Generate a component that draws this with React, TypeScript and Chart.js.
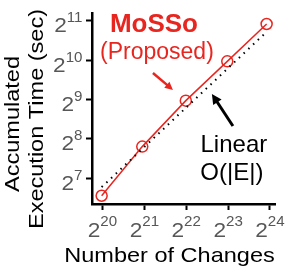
import React, { useEffect, useRef } from "react";
import { Chart, registerables } from "chart.js";

Chart.register(...registerables);

// Number of changes (x) and accumulated execution time in seconds (y) for MoSSo
const changes = [1034200, 2025700, 4165400, 8273300, 15872000];
const seconds = [93.7, 222.9, 501.5, 1002.9, 1937.5];

// Linear O(|E|) reference line
const linearChanges = [1034200, 15438000];
const linearSeconds = [109.1, 1640.5];

// Tick exponents (labels read 2^n)
const xTickExps = [20, 21, 22, 23, 24];
const yTickExps = [7, 8, 9, 10, 11];

const FONT = '"Liberation Sans", Arial, Helvetica, sans-serif';
const RED = "rgb(232, 38, 32)";

type Pt = [number, number]; // exponents of 2 in data space

const redArrow: [Pt, Pt] = [[21.205, 9.675], [21.683, 9.242]];
const blackArrow: [Pt, Pt] = [[23.115, 8.325], [22.613, 9.14]];

function drawArrow(ctx: CanvasRenderingContext2D, x1: number, y1: number, x2: number, y2: number, color: string, lw: number, head: number) {
  const ang = Math.atan2(y2 - y1, x2 - x1);
  const bx = x2 - head * Math.cos(ang);
  const by = y2 - head * Math.sin(ang);
  ctx.strokeStyle = color;
  ctx.fillStyle = color;
  ctx.lineWidth = lw;
  ctx.lineCap = "butt";
  ctx.beginPath();
  ctx.moveTo(x1, y1);
  ctx.lineTo(bx + Math.cos(ang), by + Math.sin(ang));
  ctx.stroke();
  const w = head * 0.5;
  ctx.beginPath();
  ctx.moveTo(x2, y2);
  ctx.lineTo(bx + w * Math.sin(ang), by - w * Math.cos(ang));
  ctx.lineTo(bx - w * Math.sin(ang), by + w * Math.cos(ang));
  ctx.closePath();
  ctx.fill();
}

// Draw text centered at (x, y baseline), optionally rotated, stretched along the text direction
function stretchedText(ctx: CanvasRenderingContext2D, text: string, x: number, y: number, sx: number, rot = 0) {
  ctx.save();
  ctx.translate(x, y);
  if (rot) ctx.rotate(rot);
  ctx.scale(sx, 1);
  ctx.textAlign = "center";
  ctx.fillText(text, 0, 0);
  ctx.restore();
}

const BASE_PX = 21;
const SUP_PX = 14;
const TICK_SX = 1.08;
const TITLE_SX = 1.12;

const labelsPlugin = {
  id: "customLabels",
  afterDraw(chart: any) {
    const ctx: CanvasRenderingContext2D = chart.ctx;
    const xs = chart.scales.x;
    const ys = chart.scales.y;
    const area = chart.chartArea;
    const px = (e: number) => xs.getPixelForValue(Math.pow(2, e));
    const py = (e: number) => ys.getPixelForValue(Math.pow(2, e));
    ctx.save();
    ctx.textBaseline = "alphabetic";
    ctx.fillStyle = "#575757";

    const tickLabel = (e: number, cx: number, baseY: number, supY: number) => {
      ctx.font = `${BASE_PX}px ${FONT}`;
      const bw = ctx.measureText("2").width * TICK_SX;
      ctx.font = `${SUP_PX}px ${FONT}`;
      const supW = ctx.measureText(String(e)).width * TICK_SX;
      const total = bw + supW;
      const left = cx - total / 2;
      ctx.font = `${BASE_PX}px ${FONT}`;
      stretchedText(ctx, "2", left + bw / 2, baseY, TICK_SX);
      ctx.font = `${SUP_PX}px ${FONT}`;
      stretchedText(ctx, String(e), left + bw + supW / 2, supY, TICK_SX);
      return total;
    };

    // y tick labels (right-aligned)
    for (const e of yTickExps) {
      const y = py(e);
      const right = area.left - 9.5;
      ctx.font = `${BASE_PX}px ${FONT}`;
      const bw = ctx.measureText("2").width * TICK_SX;
      ctx.font = `${SUP_PX}px ${FONT}`;
      const supW = ctx.measureText(String(e)).width * TICK_SX;
      tickLabel(e, right - (bw + supW) / 2, y + 11.5, y + 1.5);
    }

    // x tick labels (centered)
    for (const e of xTickExps) {
      tickLabel(e, px(e), area.bottom + 33, area.bottom + 21.5);
    }

    // axis titles
    ctx.fillStyle = "#000";
    ctx.font = `21px ${FONT}`;
    stretchedText(ctx, "Number of Changes", 169.5, 262, TITLE_SX);
    stretchedText(ctx, "Accumulated", 18.5, 124, TITLE_SX, -Math.PI / 2);
    stretchedText(ctx, "Execution Time (sec)", 43, 119, TITLE_SX, -Math.PI / 2);

    // annotations
    ctx.textAlign = "center";
    ctx.fillStyle = RED;
    ctx.font = `bold 26px ${FONT}`;
    ctx.fillText("MoSSo", px(21.229), py(10.72));
    ctx.font = `23px ${FONT}`;
    ctx.fillText("(Proposed)", px(21.3), py(10.03));
    ctx.fillStyle = "#000";
    ctx.font = `24px ${FONT}`;
    ctx.fillText("Linear", px(23.138), py(7.662));
    ctx.fillText("O(|E|)", px(23.09), py(6.949));

    drawArrow(ctx, px(redArrow[0][0]), py(redArrow[0][1]), px(redArrow[1][0]), py(redArrow[1][1]), RED, 2.5, 8);
    drawArrow(ctx, px(blackArrow[0][0]), py(blackArrow[0][1]), px(blackArrow[1][0]), py(blackArrow[1][1]), "#000", 3, 10);
    ctx.restore();
  },
};

export default function App() {
  const ref = useRef<HTMLCanvasElement>(null);
  useEffect(() => {
    if (!ref.current) return;
    const chart = new Chart(ref.current, {
      type: "line",
      data: {
        datasets: [
          {
            label: "Linear O(|E|)",
            data: linearChanges.map((x, i) => ({ x, y: linearSeconds[i] })),
            borderColor: "#000",
            borderWidth: 2,
            borderDash: [1.5, 5],
            pointRadius: 0,
            fill: false,
            tension: 0,
          },
          {
            label: "MoSSo (Proposed)",
            data: changes.map((x, i) => ({ x, y: seconds[i] })),
            borderColor: RED,
            borderWidth: 1.5,
            pointRadius: 5.5,
            pointBorderWidth: 1.5,
            pointBorderColor: RED,
            pointBackgroundColor: "rgba(0,0,0,0)",
            fill: false,
            tension: 0,
          },
        ],
      },
      options: {
        responsive: false,
        animation: false,
        events: [],
        layout: { padding: { left: 86, top: 13, right: 16, bottom: 58 } },
        plugins: { legend: { display: false }, tooltip: { enabled: false } },
        scales: {
          x: {
            type: "logarithmic",
            min: Math.pow(2, 19.75),
            max: Math.pow(2, 24.12),
            afterBuildTicks: (s: any) => {
              s.ticks = xTickExps.map((e) => ({ value: Math.pow(2, e) }));
            },
            ticks: { display: false },
            grid: { display: true, drawOnChartArea: false, drawTicks: true, tickLength: 6, tickWidth: 2, tickColor: "#000" },
            border: { display: true, color: "#000", width: 2.5 },
          },
          y: {
            type: "logarithmic",
            min: Math.pow(2, 6.34),
            max: Math.pow(2, 11.2),
            afterBuildTicks: (s: any) => {
              s.ticks = yTickExps.map((e) => ({ value: Math.pow(2, e) }));
            },
            ticks: { display: false },
            grid: { display: true, drawOnChartArea: false, drawTicks: true, tickLength: 6, tickWidth: 2, tickColor: "#000" },
            border: { display: true, color: "#000", width: 2.5 },
          },
        },
      },
      plugins: [labelsPlugin],
    });
    return () => chart.destroy();
  }, []);
  return (
    <div style={{ position: "absolute", left: 0, top: 0, width: 291, height: 268, background: "#fff" }}>
      <canvas ref={ref} width={291} height={268} />
    </div>
  );
}
